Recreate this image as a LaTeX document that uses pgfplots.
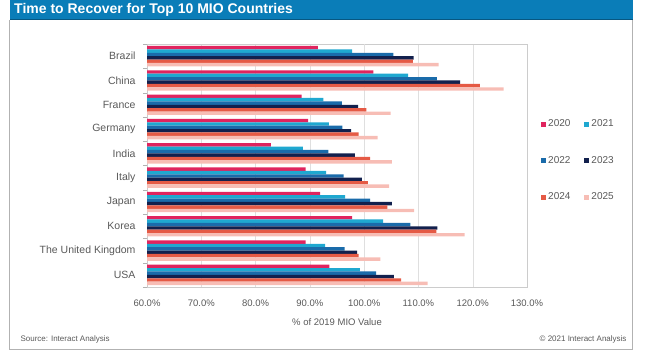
\documentclass[border=0pt]{standalone}
\usepackage{fontspec}
\setmainfont{Liberation Sans}
\usepackage{pgfplots}
\usepackage{pgfplotstable}
\pgfplotsset{compat=1.18}
\definecolor{c20}{HTML}{E0245E}
\definecolor{c21}{HTML}{1FA8D0}
\definecolor{c22}{HTML}{1A6BAA}
\definecolor{c23}{HTML}{12204D}
\definecolor{c24}{HTML}{E55A45}
\definecolor{c25}{HTML}{F7BDB5}
\definecolor{tband}{HTML}{0A7DB8}
\definecolor{txt}{HTML}{595959}
\pgfplotstableread{
idx y20 y21 y22 y23 y24 y25
0 91.5 97.8 105.4 109.1 109.0 113.7
1 101.7 108.1 113.4 117.7 121.3 125.7
2 88.5 92.5 95.9 98.9 100.4 104.9
3 89.7 93.5 96.0 97.6 99.0 102.5
4 82.8 88.7 93.4 98.3 101.1 105.1
5 89.2 93.0 96.2 99.6 100.7 104.6
6 91.9 96.5 101.1 105.1 104.3 109.2
7 97.8 103.5 108.5 113.5 113.3 118.5
8 89.2 92.8 96.4 98.7 99.0 103.0
9 93.6 99.2 102.2 105.5 106.8 111.7
}\data
\pgfplotsset{myleg/.style={legend image code/.code={\fill[##1] (0pt,-2.5pt) rectangle (5pt,2.5pt);}}}
\begin{document}
\begin{tikzpicture}
\path[use as bounding box] (0pt,0pt) rectangle (645pt,350pt);
\fill[tband] (10pt,330pt) rectangle (633pt,350pt);
\draw[tband!70!black, line width=1pt] (10pt,330.5pt) -- (633pt,330.5pt);
\draw[gray!60] (9.5pt,330pt) -- (9.5pt,1pt) -- (632.5pt,1pt) -- (632.5pt,330pt);
\node[anchor=west, text=white, font=\bfseries\fontsize{14}{16}\selectfont, inner sep=0pt] at (14pt,340pt) {Time to Recover for Top 10 MIO Countries};
\begin{axis}[
  at={(147pt,63pt)}, anchor=south west, scale only axis,
  width=380pt, height=243pt,
  xbar=0pt, bar width=3.4pt,
  xmin=60, xmax=130, ymin=-0.5, ymax=9.5, y dir=reverse,
  xtick={60,70,...,130},
  xticklabel={\pgfmathprintnumber[fixed,fixed zerofill,precision=1]{\tick}\%},
  /pgf/number format/assume math mode=true,
  ytick={0,...,9},
  yticklabels={Brazil,China,France,Germany,India,Italy,Japan,Korea,The United Kingdom,USA},
  minor ytick={-0.5,0.5,...,9.5},
  major tick length=0pt, minor tick length=4pt, tick align=outside,
  ytick pos=left, xtick pos=bottom,
  xmajorgrids, major grid style={gray!25},
  extra x ticks={100}, extra x tick labels={},
  extra x tick style={grid style={dashed, gray!70}},
  axis line style={gray!40},
  minor tick style={gray!60},
  tick label style={font=\fontsize{9.5}{11}\selectfont, text=txt},
  xticklabel style={yshift=-9pt},
  yticklabel style={xshift=-8pt, font=\fontsize{10.5}{12}\selectfont},
  xlabel={\% of 2019 MIO Value},
  xlabel style={font=\fontsize{9.5}{11}\selectfont, text=txt, yshift=-5pt},
  legend columns=2,
  legend style={draw=none, fill=none, font=\fontsize{10}{12}\selectfont, text=txt,
    at={(1,0.52)}, anchor=west, xshift=11pt, row sep=24pt,
    /tikz/every even column/.append style={column sep=12pt}},
  legend cell align=left,
]
\addplot[fill=c20, draw=none, myleg, /pgf/bar shift=8.5pt] table[x=y20, y=idx]{\data};
\addlegendentry{2020}
\addplot[fill=c21, draw=none, myleg, /pgf/bar shift=5.1pt] table[x=y21, y=idx]{\data};
\addlegendentry{2021}
\addplot[fill=c22, draw=none, myleg, /pgf/bar shift=1.7pt] table[x=y22, y=idx]{\data};
\addlegendentry{2022}
\addplot[fill=c23, draw=none, myleg, /pgf/bar shift=-1.7pt] table[x=y23, y=idx]{\data};
\addlegendentry{2023}
\addplot[fill=c24, draw=none, myleg, /pgf/bar shift=-5.1pt] table[x=y24, y=idx]{\data};
\addlegendentry{2024}
\addplot[fill=c25, draw=none, myleg, /pgf/bar shift=-8.5pt] table[x=y25, y=idx]{\data};
\addlegendentry{2025}
\end{axis}
\node[anchor=west, font=\fontsize{8}{10}\selectfont, text=txt] at (17pt,11pt) {Source: Interact Analysis};
\node[anchor=east, font=\fontsize{8}{10}\selectfont, text=txt] at (630pt,11pt) {\textcopyright{} 2021 Interact Analysis};
\end{tikzpicture}
\end{document}
